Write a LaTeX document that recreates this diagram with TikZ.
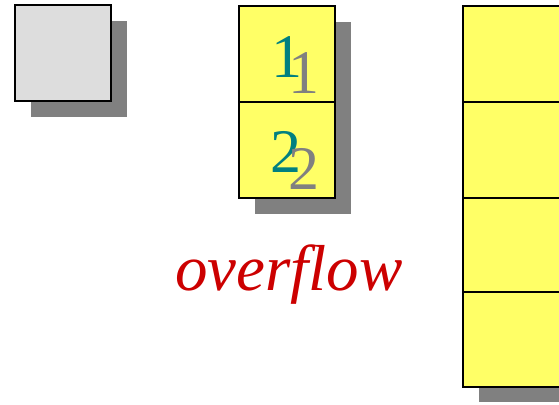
\documentclass[tikz,border=0pt]{standalone}
\usepackage{fontspec}
\setmainfont{Liberation Serif}
\definecolor{cellyellow}{RGB}{255,255,102}
\definecolor{cellgray}{RGB}{221,221,221}
\definecolor{shadowgray}{RGB}{128,128,128}
\definecolor{digitteal}{RGB}{0,128,128}
\definecolor{overred}{RGB}{204,0,0}
\begin{document}
\begin{tikzpicture}[x=1pt,y=-1pt,
    cell/.style={draw=black,line width=1.5pt,fill=cellyellow},
    shade/.style={fill=shadowgray},
    digit/.style={inner sep=0pt,font=\fontsize{62}{62}\selectfont}]
    \useasboundingbox (0,0) rectangle (559,404);
    % single gray cell
    \fill[shade] (31,21) rectangle (127,117);
    \draw[cell,fill=cellgray] (15,5) rectangle (111,101);
    % two cells
    \fill[shade] (255,22) rectangle (351,214);
    \draw[cell] (239,6) rectangle (335,102); \draw[cell] (239,102) rectangle (335,198);
    \node[digit,text=digitteal] (one) at (287,57){1};
    \node[digit,text=shadowgray] (oneshade) at (303.5,73){1};
    \node[digit,text=digitteal] (two) at (285.5,152){2};
    \node[digit,text=shadowgray] (twoshade) at (304,169){2};
    % four cells
    \fill[shade] (479,22) rectangle (580,402);
    \foreach \top/\bot in {6/102,102/198,198/292,292/387}
      \draw[cell] (463,\top) rectangle (562,\bot);
    \node[anchor=base,inner sep=0pt,text=overred,font=\fontsize{65}{65}\selectfont\itshape] (over) at (289,290){overflow};
\end{tikzpicture}
\end{document}
